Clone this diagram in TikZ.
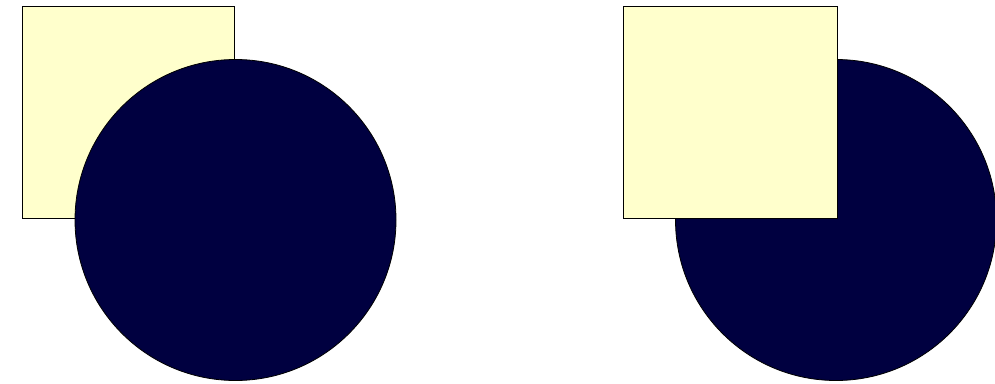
\documentclass[tikz,border=0pt]{standalone}
\begin{document}
\begin{tikzpicture}[x=1pt,y=-1pt,
  sq/.style={draw=black,line width=1pt,fill={rgb,255:red,255;green,255;blue,204}},
  disc/.style={draw=black,line width=0.8pt,fill={rgb,255:red,0;green,0;blue,64}}]
\useasboundingbox (0,0) rectangle (995,383);
% left: square below circle
\path[sq] (22,6) rectangle (234.5,218) coordinate (ls);
\path[disc] (235.5,220) circle (160.5) coordinate (lc);
% right: circle below square
\path[disc] (836,220) circle (160.5) coordinate (rc);
\path[sq] (623,6) rectangle (837,218) coordinate (rs);
\end{tikzpicture}
\end{document}
